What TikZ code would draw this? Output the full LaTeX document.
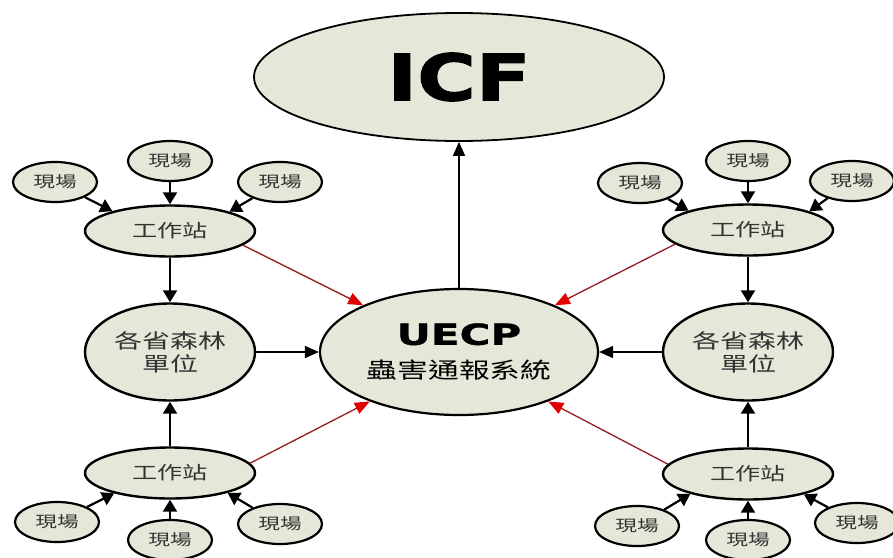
\documentclass[tikz,border=0pt]{standalone}
\usepackage{fontspec}
\usepackage{tikz}
\usetikzlibrary{shapes.geometric, arrows.meta}
\newfontfamily\cjk{Noto Sans CJK TC}[FakeStretch=1.4]
\newfontfamily\icffont{DejaVu Sans}[FakeStretch=1.25, FakeBold=2]
\newfontfamily\uecpfont{DejaVu Sans}[FakeStretch=1.45, FakeBold=1.2]
\definecolor{nodefill}{RGB}{229,231,216}
\definecolor{linkred}{RGB}{150,28,32}
\definecolor{tipred}{RGB}{225,0,0}
\tikzset{
  %% ---- ellipses ----
  site/.style    = {ellipse, draw=black, line width=2.2pt, fill=nodefill,
                    minimum width=84pt, minimum height=40pt, inner sep=0pt,
                    text=black!80, font=\cjk\fontsize{15.5}{17}\selectfont},
  station/.style = {ellipse, draw=black, line width=2.4pt, fill=nodefill,
                    minimum width=170pt, minimum height=51pt, inner sep=0pt,
                    text=black!80, font=\cjk\fontsize{18}{20}\selectfont},
  unit/.style    = {ellipse, draw=black, line width=2.4pt, fill=nodefill,
                    minimum width=170pt, minimum height=97pt, inner sep=0pt,
                    align=center, text=black!80,
                    font=\cjk\fontsize{20}{23}\selectfont},
  hub/.style     = {ellipse, draw=black, line width=2.2pt, fill=nodefill,
                    minimum width=278pt, minimum height=126pt, inner sep=0pt,
                    align=center},
  top/.style     = {ellipse, draw=black, line width=1.8pt, fill=nodefill,
                    minimum width=410pt, minimum height=128pt, inner sep=0pt},
  %% ---- arrows ----
  feed/.style      = {-{Triangle[length=12pt,width=14pt]}, line width=2.2pt},
  thinarrow/.style = {-{Triangle[length=14pt,width=12pt]}, line width=1.5pt},
  redarrow/.style  = {-{Triangle[length=15pt,width=12pt,color=tipred]},
                      line width=1.3pt, color=linkred},
}

\begin{document}
\begin{tikzpicture}[x=1pt, y=-1pt]

\useasboundingbox (0,0) rectangle (893,557);
\clip (0,0) rectangle (893,557);

% ICF at the top
\node[top] (icf) at (459,77)
  {\icffont\bfseries\fontsize{64}{64}\selectfont ICF};

% UECP in the middle
\node[hub] (uecp) at (459,352)
  {\uecpfont\bfseries\fontsize{29}{30}\selectfont UECP\\[14pt]
   \cjk\mdseries\fontsize{22}{24}\selectfont 蟲害通報系統};

% forestry units left and right
\node[unit] (unitL) at (170,352) {各省森林\\單位};
\node[unit] (unitR) at (748,352) {各省森林\\單位};

% work stations
\node[station] (stTL) at (170,231) {工作站};
\node[station] (stTR) at (748,230) {工作站};
\node[station] (stBL) at (170,473) {工作站};
\node[station] (stBR) at (748,474) {工作站};

% field sites, top left
\node[site] (siteTLa) at (55,182)  {現場};
\node[site] (siteTLb) at (170,161) {現場};
\node[site] (siteTLc) at (280,182) {現場};
% field sites, top right
\node[site] (siteTRa) at (640,183) {現場};
\node[site] (siteTRb) at (748,161) {現場};
\node[site] (siteTRc) at (852,181) {現場};
% field sites, bottom left
\node[site] (siteBLa) at (57,522)  {現場};
\node[site] (siteBLb) at (170,540) {現場};
\node[site] (siteBLc) at (280,524) {現場};
% field sites, bottom right
\node[site] (siteBRa) at (637,526) {現場};
\node[site] (siteBRb) at (748,540) {現場};
\node[site] (siteBRc) at (857,523) {現場};

% sites -> stations
\draw[feed] (siteTLa) -- (stTL.161);
\draw[feed] (siteTLb) -- (stTL.north);
\draw[feed] (siteTLc) -- (stTL.18);
\draw[feed] (siteTRa) -- (stTR.162);
\draw[feed] (siteTRb) -- (stTR.north);
\draw[feed] (siteTRc) -- (stTR.17);
\draw[feed] (siteBLa) -- (stBL.-160);
\draw[feed] (siteBLb) -- (stBL.south);
\draw[feed] (siteBLc) -- (stBL.-19);
\draw[feed] (siteBRa) -- (stBR.-161);
\draw[feed] (siteBRb) -- (stBR.south);
\draw[feed] (siteBRc) -- (stBR.-20);

% stations -> units
\draw[feed] (stTL) -- (unitL);
\draw[feed] (stBL) -- (unitL);
\draw[feed] (stTR) -- (unitR);
\draw[feed] (stBR) -- (unitR);

% units -> UECP -> ICF
\draw[thinarrow] (unitL) -- (uecp);
\draw[thinarrow] (unitR) -- (uecp);
\draw[thinarrow] (uecp)  -- (icf);

% stations straight to UECP (red)
\draw[redarrow] (stTL.-11) -- (uecp.154);
\draw[redarrow] (stBL.7)   -- (uecp.-151);
\draw[redarrow] (stTR.191) -- (uecp.26);
\draw[redarrow] (stBR.173) -- (uecp.-29);

\end{tikzpicture}
\end{document}
